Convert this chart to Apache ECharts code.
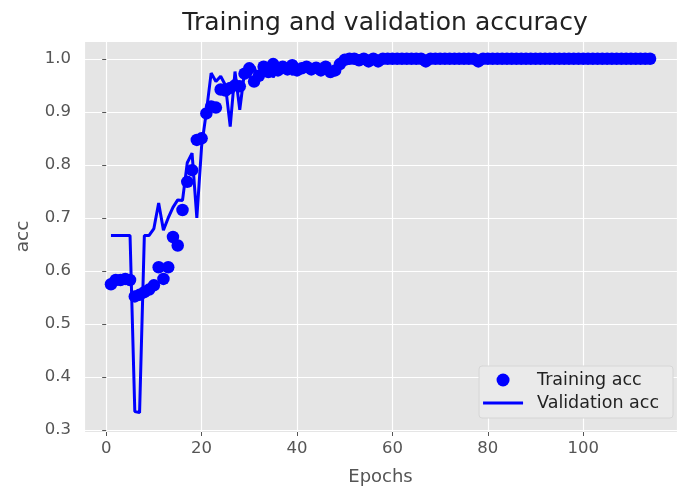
<!DOCTYPE html>
<html>
<head>
<meta charset="utf-8">
<script src="https://cdn.jsdelivr.net/npm/echarts@6/dist/echarts.min.js"></script>
<style>
html,body{margin:0;padding:0;background:#fff;}
#chart{width:693px;height:500px;}
</style>
</head>
<body>
<div id="chart"></div>
<script>
var titleText = 'Training and validation accuracy';
var xName = 'Epochs';
var yName = 'acc';
var seriesNames = ['Training acc', 'Validation acc'];

var epochs = [
  1,2,3,4,5,6,7,8,9,10,
  11,12,13,14,15,16,17,18,19,20,
  21,22,23,24,25,26,27,28,29,30,
  31,32,33,34,35,36,37,38,39,40,
  41,42,43,44,45,46,47,48,49,50,
  51,52,53,54,55,56,57,58,59,60,
  61,62,63,64,65,66,67,68,69,70,
  71,72,73,74,75,76,77,78,79,80,
  81,82,83,84,85,86,87,88,89,90,
  91,92,93,94,95,96,97,98,99,100,
  101,102,103,104,105,106,107,108,109,110,
  111,112,113,114
];

var trainAcc = [
  0.575,0.583,0.583,0.585,0.583,0.552,0.555,0.560,0.565,0.573,
  0.607,0.585,0.607,0.664,0.648,0.715,0.768,0.790,0.847,0.850,
  0.897,0.910,0.908,0.942,0.940,0.945,0.950,0.948,0.972,0.982,
  0.957,0.968,0.985,0.975,0.990,0.978,0.985,0.980,0.988,0.978,
  0.982,0.985,0.980,0.983,0.978,0.985,0.975,0.978,0.990,0.998,
  1,1,0.997,1,0.995,1,0.995,1,1,1,
  1,1,1,1,1,1,0.995,1,1,1,
  1,1,1,1,1,1,1,0.995,1,1,
  1,1,1,1,1,1,1,1,1,1,
  1,1,1,1,1,1,1,1,1,1,
  1,1,1,1,1,1,1,1,1,1,
  1,1,1,1
];

var valAcc = [
  0.667,0.667,0.667,0.667,0.667,0.335,0.333,0.667,0.667,0.680,
  0.728,0.677,0.700,0.720,0.734,0.733,0.804,0.822,0.700,0.835,
  0.900,0.973,0.957,0.967,0.950,0.872,0.976,0.904,0.975,0.965,
  0.985,0.960,0.975,0.990,0.965,0.980,0.975,0.985,0.970,0.980,
  0.975,0.980,0.975,0.980,0.975,0.980,0.978,0.985,1,1,
  1,1,1,1,1,1,1,1,1,1,
  1,1,1,1,1,1,1,1,1,1,
  1,1,1,1,1,1,1,1,1,1,
  1,1,1,1,1,1,1,1,1,1,
  1,1,1,1,1,1,1,1,1,1,
  1,1,1,1,1,1,1,1,1,1,
  1,1,1,1
];

function pairs(xs, ys) {
  var out = [];
  for (var i = 0; i < xs.length; i++) out.push([xs[i], ys[i]]);
  return out;
}

var FONT = '"DejaVu Sans", sans-serif';
var chart = echarts.init(document.getElementById('chart'), null, {renderer: 'canvas'});

chart.setOption({
  animation: false,
  backgroundColor: '#ffffff',
  title: {
    text: titleText,
    left: 380,
    textAlign: 'center',
    top: 6,
    textStyle: {fontFamily: FONT, fontSize: 25, fontWeight: 'normal', color: '#222222'}
  },
  grid: {
    left: 84, right: 16, top: 41, bottom: 68,
    show: true, backgroundColor: '#E5E5E5', borderWidth: 0
  },
  legend: {
    orient: 'vertical',
    right: 20,
    bottom: 82,
    itemWidth: 40,
    itemHeight: 13,
    itemGap: 5,
    padding: [5, 14, 6, 4],
    backgroundColor: '#EAEAEA',
    borderColor: '#D6D6D6',
    borderWidth: 1,
    borderRadius: 3,
    textStyle: {fontFamily: FONT, fontSize: 17.5, color: '#222222', padding: [0, 0, 0, 9]},
    data: [
      {name: seriesNames[0], icon: 'circle'},
      {name: seriesNames[1], icon: 'path://M0,0 L40,0 L40,3 L0,3 Z'}
    ]
  },
  xAxis: {
    type: 'value',
    min: -4.65,
    max: 119.65,
    splitNumber: 5,
    name: xName,
    nameLocation: 'middle',
    nameGap: 36,
    nameTextStyle: {fontFamily: FONT, fontSize: 18, color: '#555555'},
    axisLine: {show: false},
    axisTick: {show: true, length: 4, lineStyle: {color: '#555555'}},
    axisLabel: {
      fontFamily: FONT, fontSize: 16.5, color: '#555555', margin: 8,
      showMinLabel: false, showMaxLabel: false,
      formatter: function (v) { return (Math.abs(v % 20) < 1e-9) ? String(v) : ''; }
    },
    splitLine: {show: true, lineStyle: {color: '#ffffff', width: 1.2}}
  },
  yAxis: {
    type: 'value',
    min: 0.2965,
    max: 1.0335,
    splitNumber: 5,
    name: yName,
    nameLocation: 'middle',
    nameGap: 51,
    nameTextStyle: {fontFamily: FONT, fontSize: 18.5, color: '#555555'},
    axisLine: {show: false},
    axisTick: {show: true, length: 4, lineStyle: {color: '#555555'}},
    axisLabel: {
      fontFamily: FONT, fontSize: 16.5, color: '#555555', margin: 13,
      showMinLabel: false, showMaxLabel: false,
      formatter: function (v) {
        return (Math.abs(v * 10 - Math.round(v * 10)) < 1e-6) ? v.toFixed(1) : '';
      }
    },
    splitLine: {show: true, lineStyle: {color: '#ffffff', width: 1.2}}
  },
  series: [
    {
      name: seriesNames[0],
      type: 'scatter',
      data: pairs(epochs, trainAcc),
      symbol: 'circle',
      symbolSize: 12.5,
      itemStyle: {color: '#0000FF', opacity: 1},
      z: 3
    },
    {
      name: seriesNames[1],
      type: 'line',
      data: pairs(epochs, valAcc),
      showSymbol: false,
      symbol: 'none',
      lineStyle: {color: '#0000FF', width: 3},
      itemStyle: {color: '#0000FF'},
      z: 4
    }
  ]
});
</script>
</body>
</html>
